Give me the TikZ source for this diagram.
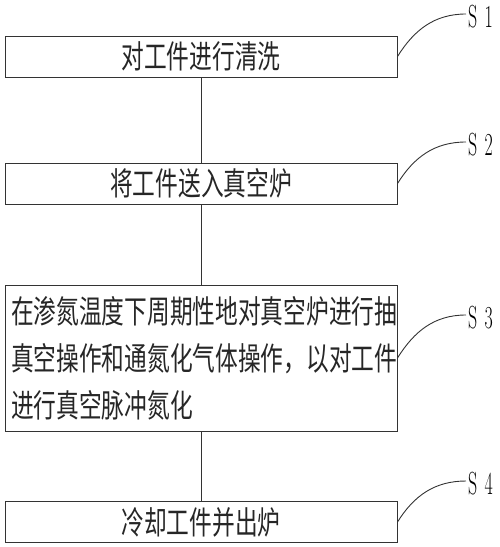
\documentclass[tikz,border=0pt]{standalone}
\usepackage{fontspec}
\newfontfamily\cjk[FakeStretch=0.71]{Noto Sans CJK SC}
\usepackage{tikz}
\usetikzlibrary{positioning}
\tikzstyle{st} = [rectangle, minimum width=392pt, minimum height=41pt, draw=black!80, line width=1pt, text=black!85, font=\cjk\fontsize{32}{47}\selectfont]
\tikzstyle{lbl} = [font=\fontsize{32}{32}\selectfont, inner sep=0pt, anchor=west]
\tikzstyle{line} = [line width=0.9pt, draw=black!80]
\newcommand{\stp}[1]{\scalebox{0.56}[1]{S\hspace{13pt}#1}}

\begin{document}
\begin{tikzpicture}[x=1pt,y=-1pt]
      \useasboundingbox (0,0) rectangle (500,547);
      % steps
      \node [st] (s1) at (201,56.5) {对工件进行清洗};
      \node [st] (s2) at (201,183.5) {将工件送入真空炉};
      \node [st, minimum height=146pt, text width=380pt, align=left] (s3) at (201,358)
        {在渗氮温度下周期性地对真空炉进行抽\\真空操作和通氮化气体操作，以对工件\\进行真空脉冲氮化};
      \node [st] (s4) at (201,522) {冷却工件并出炉};
      \draw [line] (s1) -- (s2);
      \draw [line] (s2) -- (s3);
      \draw [line] (s3) -- (s4);
      % step labels
      \coordinate (c1) at (466,14);
      \coordinate (c2) at (466,142);
      \coordinate (c3) at (466,315);
      \coordinate (c4) at (466,481);
      \node [lbl] (l1) at (468,17) {\stp{1}};
      \node [lbl] (l2) at (468,145) {\stp{2}};
      \node [lbl] (l3) at (468,318) {\stp{3}};
      \node [lbl] (l4) at (468,484) {\stp{4}};
      \draw [line] (s1.east) to[out=58,in=180] (c1);
      \draw [line] (s2.east) to[out=58,in=180] (c2);
      \draw [line] (s3.east) to[out=58,in=180] (c3);
      \draw [line] (s4.east) to[out=58,in=180] (c4);
\end{tikzpicture}
\end{document}
